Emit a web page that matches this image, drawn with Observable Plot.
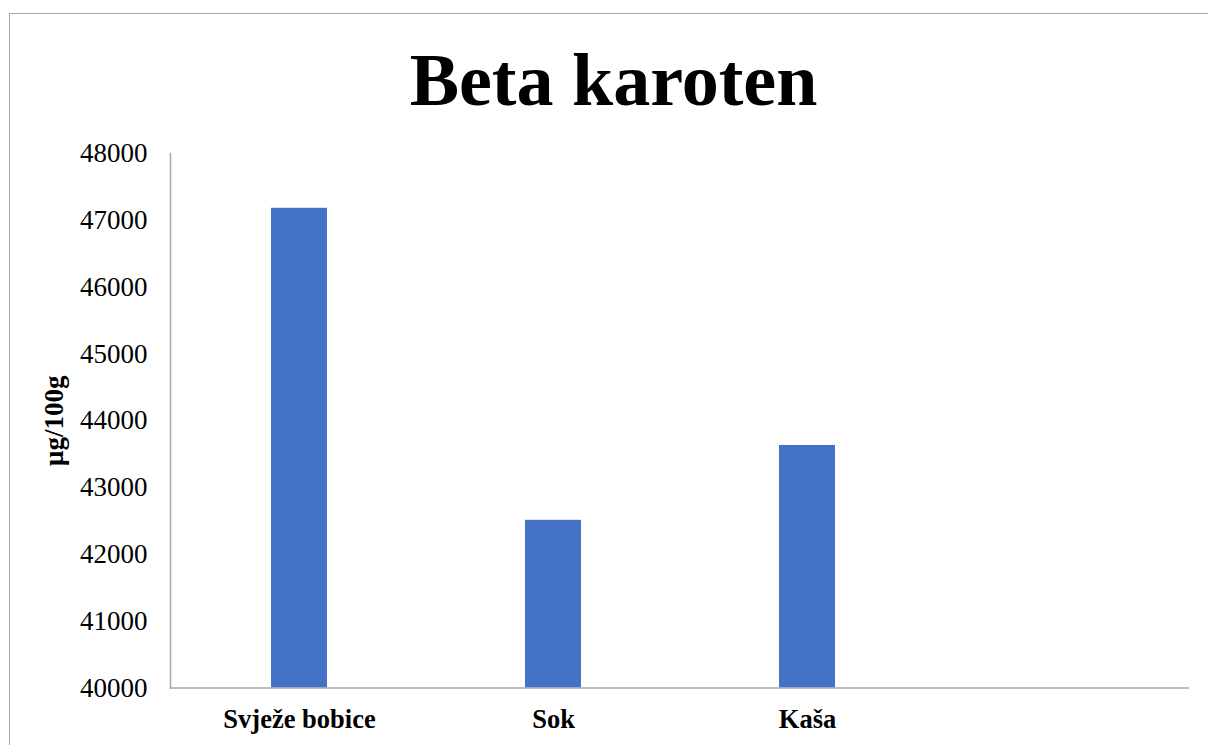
<!DOCTYPE html>
<html>
<head>
<meta charset="utf-8">
<script src="https://cdn.jsdelivr.net/npm/d3@7"></script>
<script src="https://cdn.jsdelivr.net/npm/@observablehq/plot@0.6"></script>
<style>
  html, body { margin: 0; padding: 0; background: #fff; overflow: hidden; }
  #wrap { position: relative; width: 1208px; height: 745px; overflow: hidden; background: #fff; }
  #border { position: absolute; left: 9px; top: 13px; width: 1300px; height: 800px;
            border-left: 1.5px solid #a6a6a6; border-top: 1.5px solid #a6a6a6; box-sizing: border-box; }
  #title { position: absolute; left: 19px; top: 43px; width: 1189px; text-align: center;
           font-family: "Liberation Serif", "Times New Roman", serif; font-weight: bold;
           font-size: 74px; line-height: 1; color: #000; }
  #chart { position: absolute; left: 0; top: 130px; }
  #chart svg { background: transparent !important; }
  g[aria-label="y-axis label"] text { font-weight: bold; font-size: 27px; }
</style>
</head>
<body>
<div id="wrap">
  <div id="border"></div>
  <div id="title">Beta karoten</div>
  <div id="chart"></div>
</div>
<script>
const categories = ["Svježe bobice", "Sok", "Kaša", " "];
const values = [47180, 42510, 43630];
const yTicks = [40000, 41000, 42000, 43000, 44000, 45000, 46000, 47000, 48000];
const yLabel = "μg/100g";

const yMin = yTicks[0];
const yMax = yTicks[yTicks.length - 1];
const data = values.map((v, i) => ({cat: categories[i], value: v}));

const chart = Plot.plot({
  width: 1208,
  height: 615,
  marginLeft: 170,
  marginRight: 19,
  marginTop: 23,
  marginBottom: 57.5,
  style: {fontFamily: "'Liberation Serif', 'Times New Roman', serif", color: "#000", background: "transparent"},
  x: {domain: categories, paddingInner: 0.78, paddingOuter: 0.39, axis: null},
  y: {domain: [yMin, yMax], axis: null},
  marks: [
    Plot.barY(data, {x: "cat", y1: d => yMin, y2: "value", fill: "#4472c4"}),
    Plot.ruleY([yMin], {stroke: "#a6a6a6", strokeWidth: 1.5}),
    Plot.frame({anchor: "left", stroke: "#a6a6a6", strokeWidth: 1.5}),
    Plot.axisY({ticks: yTicks, tickSize: 0, tickPadding: 23, tickFormat: "d", fontSize: 27,
                label: yLabel, labelArrow: "none", labelAnchor: "center", labelOffset: 127}),
    Plot.axisX({tickSize: 0, tickPadding: 21, fontSize: 26.5, fontWeight: "bold", label: null})
  ]
});
document.getElementById("chart").appendChild(chart);
</script>
</body>
</html>
